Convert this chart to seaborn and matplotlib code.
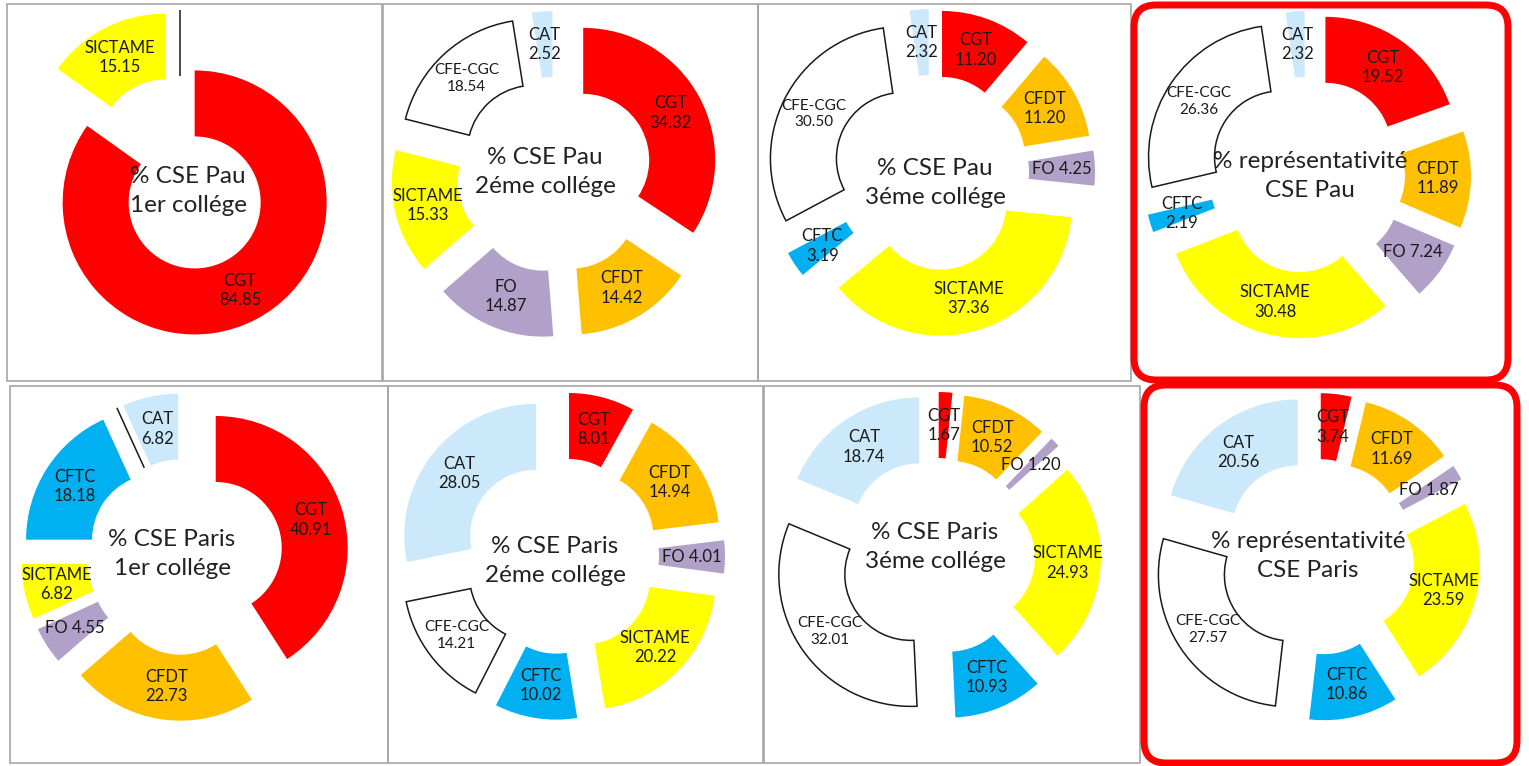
import numpy as np
import matplotlib
matplotlib.use("Agg")
import matplotlib.pyplot as plt
from matplotlib.patches import Rectangle, FancyBboxPatch
import seaborn as sns

# union order, clockwise from 12 o'clock
unions = ["CGT", "CFDT", "FO", "SICTAME", "CFTC", "CFE-CGC", "CAT"]

pau_1er = [84.85, 0, 0, 15.15, 0, 0, 0]
pau_2eme = [34.32, 14.42, 14.87, 15.33, 0, 18.54, 2.52]
pau_3eme = [11.20, 11.20, 4.25, 37.36, 3.19, 30.50, 2.32]
pau_repr = [19.52, 11.89, 7.24, 30.48, 2.19, 26.36, 2.32]
paris_1er = [40.91, 22.73, 4.55, 6.82, 18.18, 0, 6.82]
paris_2eme = [8.01, 14.94, 4.01, 20.22, 10.02, 14.21, 28.05]
paris_3eme = [1.67, 10.52, 1.20, 24.93, 10.93, 32.01, 18.74]
paris_repr = [3.74, 11.69, 1.87, 23.59, 10.86, 27.57, 20.56]

titles = ["% CSE Pau\n1er collége", "% CSE Pau\n2éme collége",
          "% CSE Pau\n3éme collége", "% représentativité\nCSE Pau",
          "% CSE Paris\n1er collége", "% CSE Paris\n2éme collége",
          "% CSE Paris\n3éme collége", "% représentativité\nCSE Paris"]

panels = [pau_1er, pau_2eme, pau_3eme, pau_repr,
          paris_1er, paris_2eme, paris_3eme, paris_repr]

union_colors = sns.color_palette(["#ff0000", "#ffc000", "#b1a0c7", "#ffff00",
                                  "#00b0f0", "#ffffff", "#cce9fb"])

sns.set_theme(style="white")
plt.rcParams["font.family"] = ["Lato", "DejaVu Sans"]

# layout, in pixels of the output picture
R, HOLE, EXPL = 132, 66, 32
centers = [(180, 174), (555, 175), (931, 173), (1307, 175),
           (185, 557), (561, 556), (937, 556), (1317, 557)]
title_pos = [(188, 191), (545, 172), (935, 183), (1310, 176),
             (172, 554), (555, 561), (935, 547), (1308, 556)]
frames = [(7, 4, 382, 381), (383, 4, 758, 381), (758, 4, 1131, 381),
          (10, 386, 388, 763), (388, 386, 763, 763), (764, 386, 1140, 763)]
red_boxes = [(1134, 5, 1508, 380), (1144, 385, 1517, 763)]

fig = plt.figure(figsize=(15.29, 7.66), dpi=100)
ax = fig.add_axes([0, 0, 1, 1])

for x0, y0, x1, y1 in frames:
    ax.add_patch(Rectangle((x0, y0), x1 - x0, y1 - y0, fill=False,
                           ec="#a6a6a6", lw=1.2))

for vals, (cx, cy), title, (tx, ty) in zip(panels, centers, titles, title_pos):
    wedges, _ = ax.pie(vals, colors=union_colors, radius=R, center=(cx, cy),
                       startangle=-90, counterclock=True, explode=[EXPL] * len(vals),
                       wedgeprops=dict(width=R - HOLE, linewidth=0))
    for w, name, v in zip(wedges, unions, vals):
        if name == "CFE-CGC":
            w.set_edgecolor("#1a1a1a")
            w.set_linewidth(1.1)
        if v == 0:
            continue
        th = np.deg2rad((w.theta1 + w.theta2) / 2)
        rm = R - (R - HOLE) / 2
        lx = w.center[0] + rm * np.cos(th)
        ly = w.center[1] + rm * np.sin(th)
        if name == "FO" and v < 10:
            txt = f"{name} {v:.2f}"
        else:
            txt = f"{name}\n{v:.2f}"
        fs = 11 if name == "CFE-CGC" else 12
        ax.text(lx, ly, txt, ha="center", va="center", fontsize=fs,
                color="#1a1a1a", linespacing=1.25)
    ax.text(tx, ty, title, ha="center", va="center", fontsize=17.5,
            color="#222222", linespacing=1.45)

for x0, y0, x1, y1 in red_boxes:
    ax.add_patch(FancyBboxPatch((x0, y0), x1 - x0, y1 - y0,
                                boxstyle="round,pad=0,rounding_size=22",
                                fill=False, ec="#ff0000", lw=5))

ax.set_xlim(0, 1529)
ax.set_ylim(766, 0)
ax.set_aspect("equal")
ax.axis("off")
fig.savefig("out.png", dpi=100)
